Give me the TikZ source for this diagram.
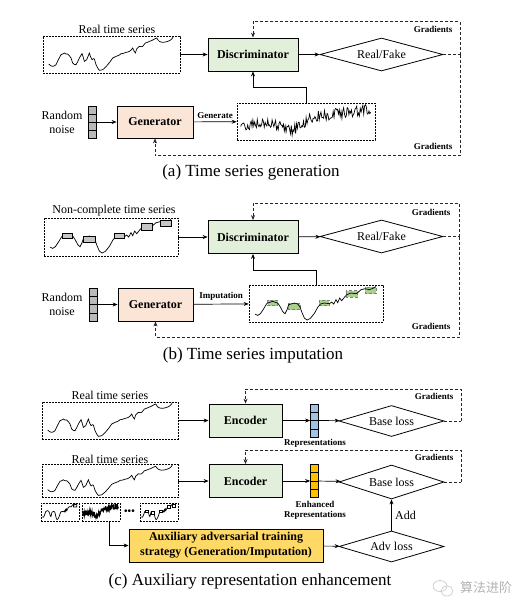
\documentclass[tikz,border=0pt]{standalone}
\usepackage{fontspec}
\setmainfont{Liberation Serif}
\newfontfamily\cjk{Noto Sans CJK SC}
\usetikzlibrary{shapes.geometric,arrows.meta,calc}

\definecolor{discgreen}{HTML}{E2EFDA}
\definecolor{genpeach}{HTML}{FBE5D6}
\definecolor{repblue}{HTML}{9DC3E6}
\definecolor{repgold}{HTML}{FFC000}
\definecolor{auxyellow}{HTML}{FFD966}
\definecolor{gapgreen}{HTML}{A9D18E}

\newcommand{\realcurve}{plot coordinates {(18,85) (24,90) (30,92) (36,90) (40,87) (47,72) (55,57) (60,55) (65,52) (70,55) (75,55) (80,60) (85,67) (90,82) (95,86) (100,87) (105,78) (110,67) (114,60) (118,54) (122,66) (125,77) (129,74) (132,72) (136,62) (140,52) (144,64) (148,72) (152,69) (155,70) (158,80) (160,87) (165,97) (170,104) (175,103) (180,102) (188,95) (195,87) (203,77) (210,67) (218,63) (225,60) (230,58) (235,54) (242,53) (250,50) (255,49) (260,47) (265,43) (270,37) (274,46) (278,52) (282,40) (286,36) (290,32) (295,33) (300,32) (304,27) (308,22) (314,20) (320,17) (326,15) (332,12) (337,9) (342,7) (346,13) (350,17) (355,19) (360,20) (368,19) (375,17) (380,15) (385,12) (389,8) (392,2)}}
\newcommand{\gapcurve}{plot coordinates {(19,88) (27,92) (35,87) (45,72) (54,57) (57,55) (72,50) (87,55) (95,67) (103,82) (109,87) (115,75) (120,60) (127,58) (137,55) (147,58) (154,67) (160,84) (167,100) (175,106) (185,101) (197,86) (207,68) (215,58) (227,55) (242,57) (249,52) (255,58) (262,45) (267,54) (273,40) (279,48) (287,38) (294,30) (307,25) (322,27) (329,22) (337,15) (349,12) (362,15) (375,10) (382,5)}}
\newcommand{\gaprects}[1]{\foreach \a/\b/\c/\d in {57/47/87/63,119/55/154/75,212/47/242/63,292/18/327/37,349/8/382/27} \draw[#1] (\a,\b) rectangle (\c,\d);}
\newcommand{\noisycurve}{plot[domain=4:134,samples=150] (\x,{24-0.13*\x+11*exp(-(((\x-55)/14)^2))+5.5*rand})}

\begin{document}
\begin{tikzpicture}[x=1pt,y=-1pt,
  box/.style={draw,line width=0.8pt,inner sep=0pt,font=\bfseries\fontsize{12}{14}\selectfont},
  series/.style={draw,dash pattern=on 2pt off 1pt,line width=0.6pt,inner sep=0pt},
  dia/.style={diamond,draw,line width=0.8pt,inner sep=0pt,shape aspect=3.7,minimum width=123pt,minimum height=33pt,font=\fontsize{12}{14}\selectfont},
  vec/.style={draw,line width=0.7pt,minimum width=8pt,minimum height=33pt,inner sep=0pt},
  lbl/.style={font=\fontsize{12}{14}\selectfont},
  grl/.style={font=\bfseries\fontsize{9}{10}\selectfont},
  captxt/.style={font=\fontsize{17}{20}\selectfont},
  arr/.style={-{Stealth[length=5pt,width=4pt]},line width=0.7pt},
  grad/.style={dash pattern=on 3pt off 2pt,line width=0.9pt,black!85}]
  \useasboundingbox (0,0) rectangle (529,611);

  % (a) generation
  \node[lbl] (realAt) at (117,29) {Real time series};
  \node[series,minimum width=137pt,minimum height=37pt] (realA) at (111.5,54.5) {};
  \draw[line width=0.7pt,shift={(realA.north west)},scale=1/3] \realcurve;
  \node[box,fill=discgreen,minimum width=90pt,minimum height=33pt] (discA) at (253,54.5) {Discriminator};
  \node[dia] (rfA) at (381.5,54.5) {Real/Fake};
  \node[lbl,align=center] (noiseAt) at (62,122.5) {Random\\noise};
  \node[vec,fill=gray!55,minimum height=32pt] (noiseA) at (92,122) {};
  \node[box,fill=genpeach,minimum width=76pt,minimum height=32pt] (genA) at (155,122) {Generator};
  \node[series,minimum width=138pt,minimum height=37pt] (fakeA) at (306,121.5) {};
  \pgfmathsetseed{11}
  \draw[line width=0.7pt,shift={(fakeA.north west)}] \noisycurve;
  \draw[arr] (realA) -- (discA);
  \draw[arr] (discA) -- (rfA);
  \draw[arr] (noiseA) -- (genA);
  \draw[arr] (genA) -- node[above,grl] (genAl) {Generate} (fakeA);
  \draw[arr] (fakeA.north) -- ++(0,-15) -| (discA.south);
  \draw[grad] (rfA.east) -- ++(17,0) coordinate (gA);
  \draw[grad,arr] (gA) -- ++(0,-33) -| (discA.north);
  \draw[grad,arr] (gA) -- ++(0,101) -| (genA.south);
  \node[grl] (gAt) at (433,29) {Gradients};
  \node[grl] (gAb) at (433,146) {Gradients};
  \node[captxt] (capA) at (251,172) {(a) Time series generation};

  % (b) imputation
  \node[lbl] (realBt) at (114,211) {Non-complete time series};
  \node[series,minimum width=134pt,minimum height=38pt] (realB) at (111,237) {};
  \begin{scope}[shift={(realB.north west)},scale=1/3]
    \draw[line width=0.7pt] \gapcurve;
    \gaprects{line width=0.6pt,fill=gray!45}
  \end{scope}
  \node[box,fill=discgreen,minimum width=90pt,minimum height=33pt] (discB) at (253,237) {Discriminator};
  \node[dia] (rfB) at (381.5,236.5) {Real/Fake};
  \node[lbl,align=center] (noiseBt) at (62,304.5) {Random\\noise};
  \node[vec,fill=gray!55] (noiseB) at (93,304.5) {};
  \node[box,fill=genpeach,minimum width=75pt,minimum height=33pt] (genB) at (155.5,304.5) {Generator};
  \node[series,minimum width=134pt,minimum height=37pt] (impB) at (316,303.5) {};
  \begin{scope}[shift={(impB.north west)},scale=1/3]
    \gaprects{line width=0.5pt,draw=gray,densely dashed,fill=gapgreen}
    \draw[line width=0.7pt] \gapcurve;
  \end{scope}
  \draw[arr] (realB) -- (discB);
  \draw[arr] (discB) -- (rfB);
  \draw[arr] (noiseB) -- (genB);
  \draw[arr] (genB) -- node[above,grl] (genBl) {Imputation} (impB);
  \draw[arr] (impB.north) -- ++(0,-14) -| (discB.south);
  \draw[grad] (rfB.east) -- ++(16,0) coordinate (gB);
  \draw[grad,arr] (gB) -- ++(0,-33.5) -| (discB.north);
  \draw[grad,arr] (gB) -- ++(0,100.5) -| (genB.south);
  \node[grl] (gBt) at (431,212) {Gradients};
  \node[grl] (gBb) at (431,326) {Gradients};
  \node[captxt] (capB) at (253,355) {(b) Time series imputation};

  % (c) representation enhancement
  \node[lbl] (realC1t) at (110,395) {Real time series};
  \node[series,minimum width=136pt,minimum height=37pt] (realC1) at (110,420.5) {};
  \draw[line width=0.7pt,shift={(realC1.north west)},scale=1/3] \realcurve;
  \node[box,fill=discgreen,minimum width=73pt,minimum height=33pt] (encC1) at (245.5,420.5) {Encoder};
  \node[vec,fill=repblue] (vecC1) at (314.5,420.5) {};
  \node[grl] (repC1) at (315,443) {Representations};
  \node[dia,minimum width=105pt,minimum height=31pt] (baseC1) at (391.5,421) {Base loss};
  \draw[arr] (realC1) -- (encC1);
  \draw[arr] (encC1) -- (vecC1);
  \draw[arr] (vecC1) -- (baseC1);
  \draw[grad] (baseC1.east) -- ++(17,0) coordinate (gC1);
  \draw[grad,arr] (gC1) -- ++(0,-32) -| (encC1.north);
  \node[grl] (gC1t) at (434,396) {Gradients};

  \node[lbl] (realC2t) at (110,459) {Real time series};
  \node[series,minimum width=136pt,minimum height=33pt] (realC2) at (110,481) {};
  \draw[line width=0.7pt,shift={(realC2.north west)},xscale=1/3,yscale=0.3] \realcurve;
  \node[box,fill=discgreen,minimum width=73pt,minimum height=33pt] (encC2) at (245.5,481) {Encoder};
  \node[vec,fill=repgold] (vecC2) at (314.5,481) {};
  \node[grl,align=center] (repC2) at (315,510.5) {Enhanced\\Representations};
  \node[dia,minimum width=105pt,minimum height=34pt] (baseC2) at (391.5,482) {Base loss};
  \draw[arr] (realC2) -- (encC2);
  \draw[arr] (encC2) -- (vecC2);
  \draw[arr] (vecC2) -- (baseC2);
  \draw[grad] (baseC2.east) -- ++(17,0) coordinate (gC2);
  \draw[grad,arr] (gC2) -- ++(0,-32) -| (encC2.north);
  \node[grl] (gC2t) at (434,457) {Gradients};

  \foreach \v in {noiseA,noiseB,vecC1,vecC2}
    \foreach \k in {1,2,3}
      \draw[line width=0.6pt] ($(\v.north west)!\k/4!(\v.south west)$) -- ($(\v.north east)!\k/4!(\v.south east)$);

  \node[series,line width=0.8pt,minimum width=38pt,minimum height=18pt] (thC1) at (60,512) {};
  \draw[line width=0.7pt,shift={(thC1.north west)},xscale=0.0945,yscale=0.16] \gapcurve (349,8) rectangle (382,27);
  \node[series,line width=0.8pt,minimum width=38pt,minimum height=18pt] (thC2) at (101,512) {};
  \pgfmathsetseed{5}
  \draw[line width=0.8pt,shift={(thC2.north west)},xscale=0.275,yscale=0.486] \noisycurve;
  \node[font=\bfseries\fontsize{10}{10}\selectfont] (dotsC) at (129.5,512) {\textbullet\hspace{0.2pt}\textbullet\hspace{0.2pt}\textbullet};
  \node[series,line width=0.8pt,minimum width=38pt,minimum height=18pt] (thC3) at (159,512) {};
  \begin{scope}[shift={(thC3.north west)},xscale=0.0945,yscale=0.16]
    \draw[line width=0.7pt] \gapcurve;
    \gaprects{line width=0.6pt,fill=white}
  \end{scope}

  \node[box,fill=auxyellow,minimum width=194pt,minimum height=33pt,align=center,font=\bfseries\fontsize{12}{15}\selectfont] (aux) at (226,545.5) {Auxiliary adversarial training\\strategy (Generation/Imputation)};
  \node[dia,minimum width=105pt,minimum height=31pt] (advC) at (391.5,546.5) {Adv loss};
  \draw[arr] ([xshift=8pt]thC2.south) |- (aux.west);
  \draw[arr] (aux) -- (advC);
  \draw[arr] (advC) -- node[right,lbl] (addC) {Add} (baseC2);
  \node[captxt] (capC) at (250,581) {(c) Auxiliary representation enhancement};

  % watermark
  \draw[gray!45,line width=0.6pt] (440,586) ellipse (7 and 5.5) (447,591) ellipse (6 and 5);
  \node[gray!60,font=\cjk\fontsize{13}{15}\selectfont] (wmark) at (486,588) {算法进阶};
\end{tikzpicture}
\end{document}
